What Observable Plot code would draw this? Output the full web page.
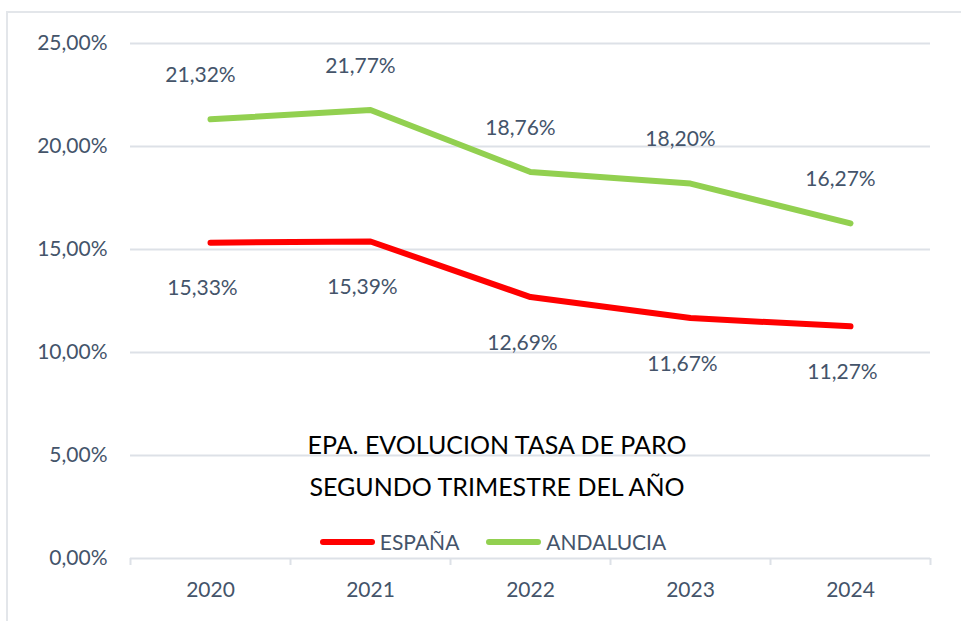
<!DOCTYPE html>
<html>
<head>
<meta charset="utf-8">
<script src="https://cdn.jsdelivr.net/npm/d3@7"></script>
<script src="https://cdn.jsdelivr.net/npm/@observablehq/plot@0.6"></script>
<style>
  html, body { margin: 0; padding: 0; background: #ffffff; }
  #wrap { position: relative; width: 961px; height: 621px; overflow: hidden; font-family: Lato, "Open Sans", sans-serif; }
  #frame { position: absolute; left: 6px; top: 11px; width: 1000px; height: 700px; border-left: 2px solid #e3e6ea; border-top: 2px solid #e3e6ea; }
  #chart { position: absolute; left: 0; top: 0; }
  #title { position: absolute; left: 0; width: 994px; top: 423px; text-align: center; color: #000; font-size: 25px; line-height: 42px; }
  #legend { position: absolute; left: 0; width: 986px; top: 529px; display: flex; justify-content: center; align-items: center; gap: 27px; color: #44546a; font-size: 21px; }
  .item { display: flex; align-items: center; gap: 5px; }
  .sw { width: 55px; height: 6px; border-radius: 3px; }
</style>
</head>
<body>
<div id="wrap">
  <div id="frame"></div>
  <div id="chart"></div>
  <div id="title"></div>
  <div id="legend"></div>
</div>
<script>
const years = [2020, 2021, 2022, 2023, 2024];
const espana = [15.33, 15.39, 12.69, 11.67, 11.27];
const andalucia = [21.32, 21.77, 18.76, 18.20, 16.27];
const yTicks = [0, 5, 10, 15, 20, 25];
const seriesNames = ["ESPAÑA", "ANDALUCIA"];
const seriesColors = ["#ff0000", "#92d050"];
const titleLines = ["EPA. EVOLUCION TASA DE PARO", "SEGUNDO TRIMESTRE DEL AÑO"];

const gridColor = "#dde1e7";
const textColor = "#44546a";
const fmt = d => d.toFixed(2).replace(".", ",") + "%";

const rowsE = years.map((y, i) => ({year: y, series: seriesNames[0], value: espana[i]}));
const rowsA = years.map((y, i) => ({year: y, series: seriesNames[1], value: andalucia[i]}));
const bounds = years.map(y => y - 0.5).concat([years[years.length - 1] + 0.5]);

const shadow = "drop-shadow(1px 2px 1.5px rgba(0,0,0,0.28))";

const chart = Plot.plot({
  width: 961,
  height: 621,
  marginLeft: 130,
  marginRight: 31,
  marginTop: 43,
  marginBottom: 63,
  x: {domain: [bounds[0], bounds[bounds.length - 1]]},
  y: {domain: [0, 25]},
  style: {fontFamily: "Lato, 'Open Sans', sans-serif", fontSize: "21px", color: textColor, background: "transparent", overflow: "visible"},
  marks: [
    Plot.gridY(yTicks, {stroke: gridColor, strokeOpacity: 1, strokeWidth: 2}),
    Plot.axisY(yTicks, {tickSize: 0, tickPadding: 23, tickFormat: fmt, label: null, fill: textColor}),
    Plot.axisX(bounds, {tickSize: 7, tickFormat: () => "", label: null, stroke: gridColor, strokeOpacity: 1, strokeWidth: 2}),
    Plot.axisX(years, {tickSize: 0, tickPadding: 24, tickFormat: d => String(d), label: null, fill: textColor}),
    Plot.line(rowsA, {x: "year", y: "value", stroke: seriesColors[1], strokeWidth: 6, strokeLinecap: "round", strokeLinejoin: "round", style: {filter: shadow}}),
    Plot.line(rowsE, {x: "year", y: "value", stroke: seriesColors[0], strokeWidth: 6, strokeLinecap: "round", strokeLinejoin: "round", style: {filter: shadow}}),
    Plot.text(rowsA, {x: "year", y: "value", text: d => fmt(d.value), dx: -10, dy: -44, fill: textColor}),
    Plot.text(rowsE, {x: "year", y: "value", text: d => fmt(d.value), dx: -8, dy: 46, fill: textColor})
  ]
});
document.getElementById("chart").appendChild(chart);

document.getElementById("title").innerHTML = titleLines.map(t => `<div>${t}</div>`).join("");
document.getElementById("legend").innerHTML = seriesNames.map((n, i) =>
  `<div class="item"><div class="sw" style="background:${seriesColors[i]}"></div><span>${n}</span></div>`).join("");
</script>
</body>
</html>
